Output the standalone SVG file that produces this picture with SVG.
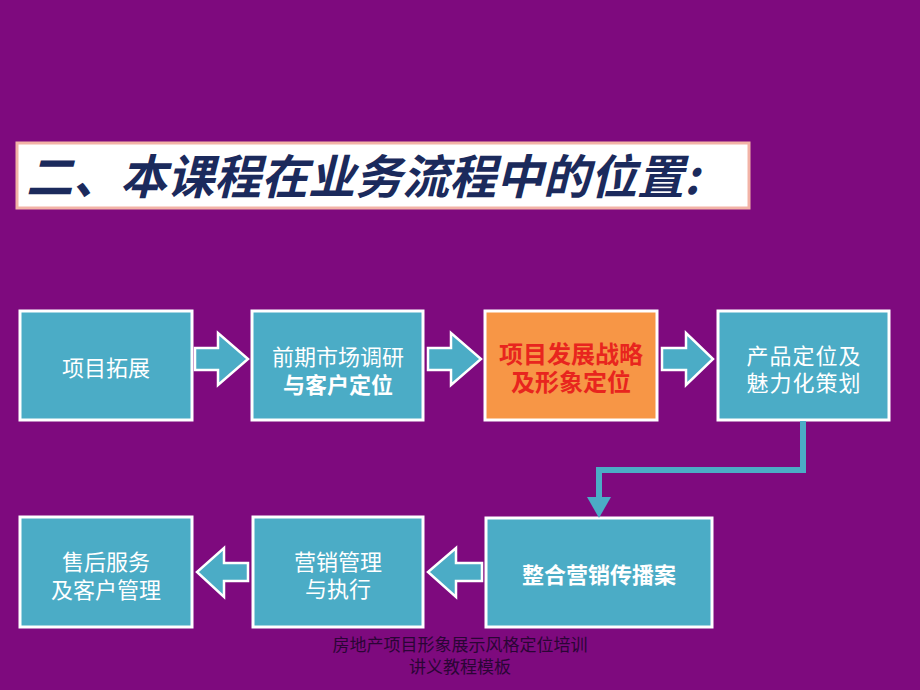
<svg xmlns="http://www.w3.org/2000/svg" width="920" height="690" viewBox="0 0 920 690">
  <defs>
    <style>
      .box { fill: #4BACC6; stroke: #FFFFFF; stroke-width: 3; }
      .hl { fill: #F79646; stroke: #FFFFFF; stroke-width: 3; }
      .arr { fill: #4BACC6; stroke: #FFFFFF; stroke-width: 2.5; stroke-linejoin: miter; }
      .t { font-family: "Noto Sans CJK SC", "Noto Sans", sans-serif; font-size: 22px; fill: #FFFFFF; text-anchor: middle; }
      .b { font-weight: bold; }
      .red { fill: #E8251E; font-size: 24px; font-weight: bold; }
    </style>
  </defs>
  <rect x="0" y="0" width="920" height="690" fill="#7E0A7E"/>

  <g id="title">
    <rect x="17" y="143" width="732" height="65" fill="#FFFFFF" stroke="#F2B3A6" stroke-width="3"/>
    <text x="26" y="194" font-family="Noto Sans CJK SC, sans-serif" font-size="47" font-weight="bold" font-style="italic" fill="#1B2A5C">二、本课程在业务流程中的位置:</text>
  </g>

  <g id="n1">
    <rect class="box" x="20" y="311" width="172" height="109"/>
    <text class="t" x="106" y="376">项目拓展</text>
  </g>
  <g id="n2">
    <rect class="box" x="252" y="311" width="171" height="109"/>
    <text class="t" x="338" y="365">前期市场调研</text>
    <text class="t b" x="338" y="393">与客户定位</text>
  </g>
  <g id="n3">
    <rect class="hl" x="485" y="311" width="172" height="109"/>
    <text class="t red" x="571" y="363">项目发展战略</text>
    <text class="t red" x="571" y="391">及形象定位</text>
  </g>
  <g id="n4">
    <rect class="box" x="718" y="311" width="171" height="109"/>
    <text class="t" x="804" y="364" letter-spacing="1">产品定位及</text>
    <text class="t" x="804" y="391" letter-spacing="1">魅力化策划</text>
  </g>
  <g id="n5">
    <rect class="box" x="486" y="518" width="226" height="109"/>
    <text class="t b" x="599" y="583" font-size="23">整合营销传播案</text>
  </g>
  <g id="n6">
    <rect class="box" x="253" y="517" width="170" height="110"/>
    <text class="t" x="338" y="570">营销管理</text>
    <text class="t" x="338" y="597">与执行</text>
  </g>
  <g id="n7">
    <rect class="box" x="20" y="517" width="172" height="110"/>
    <text class="t" x="106" y="570">售后服务</text>
    <text class="t" x="106" y="598">及客户管理</text>
  </g>

  <g id="connectors">
    <polygon class="arr" points="195,348 218,348 218,333 248,359 218,385 218,370 195,370"/>
    <polygon class="arr" points="428,348 451,348 451,333 481,359 451,385 451,370 428,370"/>
    <polygon class="arr" points="662,348 686,348 686,333 713,359 686,385 686,370 662,370"/>
    <polyline points="803,421 803,470 599,470 599,498" fill="none" stroke="#4BACC6" stroke-width="6"/>
    <polygon points="587,497 611,497 599,518" fill="#4BACC6"/>
    <polygon class="arr" points="482,563 456,563 456,548 428,572 456,597 456,581 482,581"/>
    <polygon class="arr" points="248,563 224,563 224,548 197,572 224,597 224,581 248,581"/>
  </g>

  <g id="footer" font-family="Noto Sans CJK SC, sans-serif" font-size="17" text-anchor="middle" style="fill:#2A0535">
    <text x="460" y="651" style="fill:#2A0535">房地产项目形象展示风格定位培训</text>
    <text x="460" y="673" style="fill:#2A0535">讲义教程模板</text>
  </g>
</svg>
